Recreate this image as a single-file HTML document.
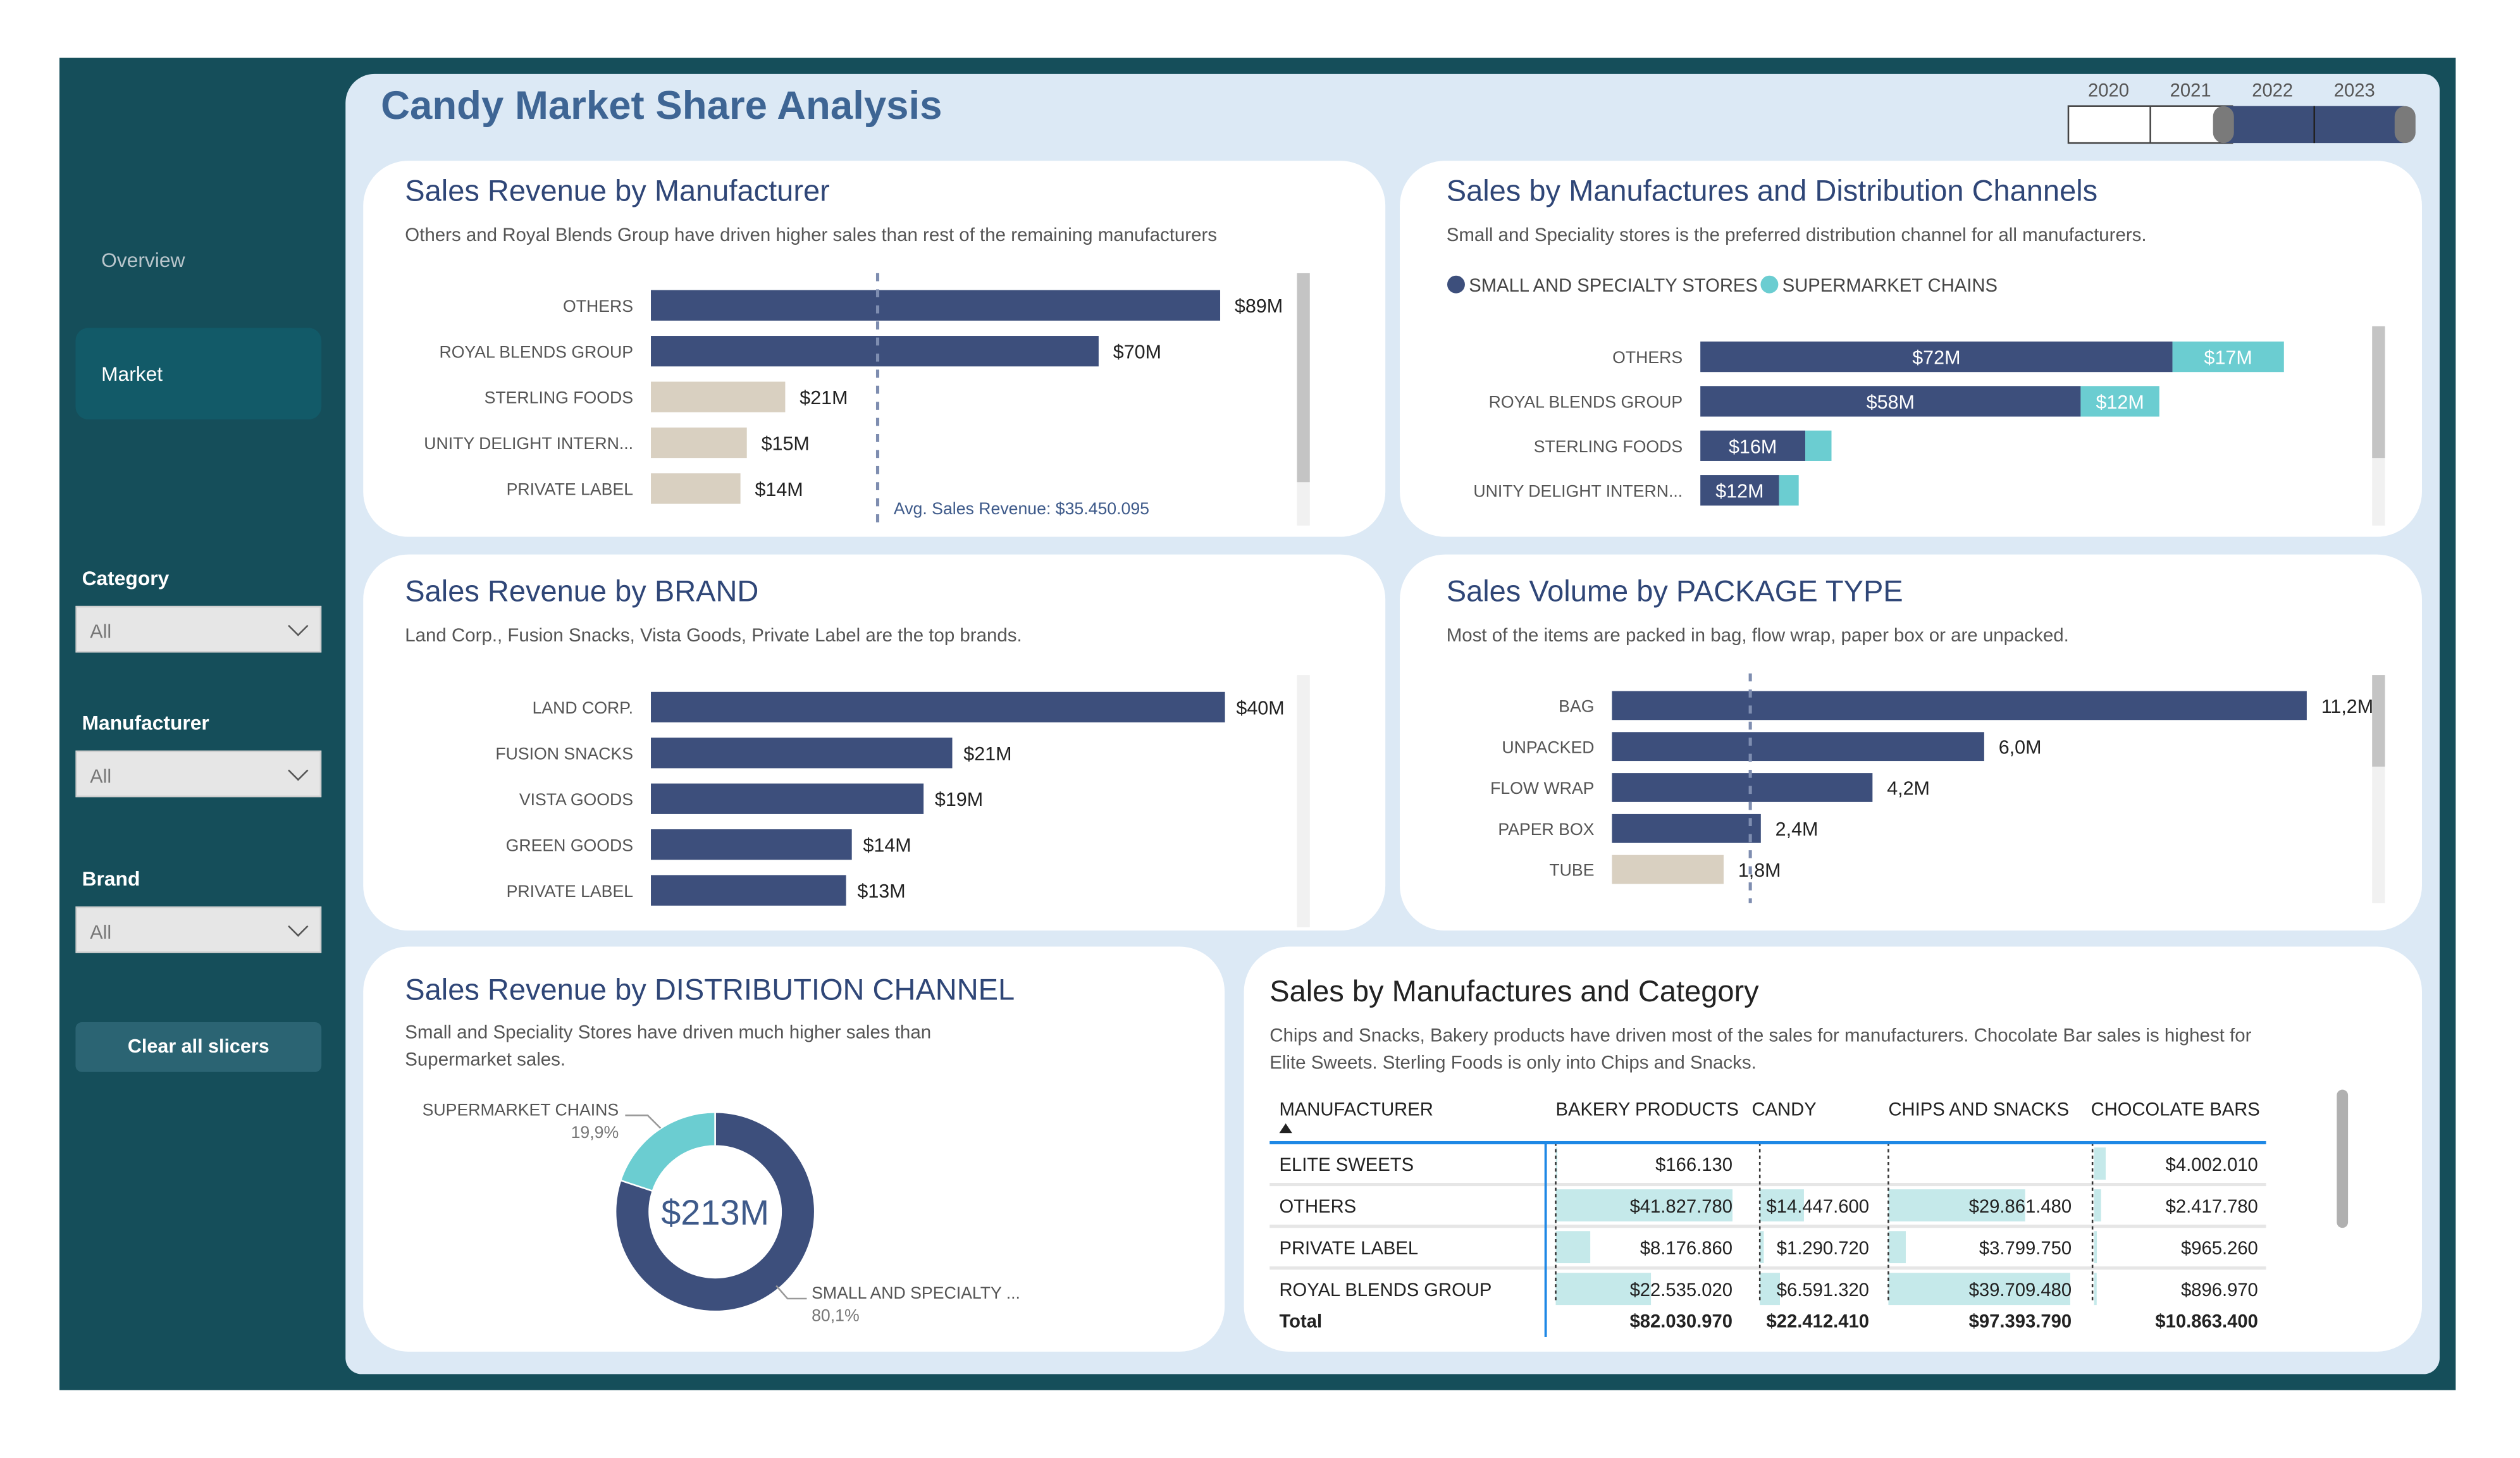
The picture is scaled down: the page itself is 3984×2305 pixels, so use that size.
<!DOCTYPE html>
<html><head><meta charset="utf-8">
<style>
html,body{margin:0;padding:0;background:#fff;width:3984px;height:2304px;overflow:hidden}
#wrap{position:absolute;left:0;top:0;width:1568px;height:907px;transform:scale(2.5408);transform-origin:0 0;font-family:"Liberation Sans",sans-serif}
.abs{position:absolute}
.card{position:absolute;background:#fff;border-radius:28px}
.ct{position:absolute;font-size:18.5px;color:#2f4677;white-space:nowrap}
.cs{position:absolute;font-size:11.6px;color:#555;white-space:nowrap;line-height:17px}
.lbl{color:#fff;font-size:12.5px;font-weight:bold}
.dd{position:absolute;left:47px;width:153px;height:29px;background:#e6e6e6;border:1px solid #cfcfcf;box-sizing:border-box}
.dd span{position:absolute;left:8px;top:8px;font-size:12px;color:#777}
.dd i{position:absolute;right:9px;top:7px;width:8px;height:8px;border-right:1.3px solid #555;border-bottom:1.3px solid #555;transform:rotate(45deg)}
svg text{font-family:"Liberation Sans",sans-serif}
</style></head><body>
<div id="wrap">
<div class="abs" style="left:37px;top:36px;width:1491px;height:829px;background:#154e5a"></div>
<div class="abs" style="left:63px;top:155px;font-size:12.5px;color:#b9c6cc">Overview</div>
<div class="abs" style="left:47px;top:204px;width:153px;height:57px;background:#125a68;border-radius:8px"><span style="position:absolute;left:16px;top:22px;font-size:12.5px;color:#fff">Market</span></div>
<div class="abs lbl" style="left:51px;top:353px">Category</div>
<div class="dd" style="top:377px"><span>All</span><i></i></div>
<div class="abs lbl" style="left:51px;top:443px">Manufacturer</div>
<div class="dd" style="top:467px"><span>All</span><i></i></div>
<div class="abs lbl" style="left:51px;top:540px">Brand</div>
<div class="dd" style="top:564px"><span>All</span><i></i></div>
<div class="abs" style="left:47px;top:636px;width:153px;height:31px;background:#2b6473;border-radius:4px;color:#fff;font-size:12px;font-weight:bold;text-align:center;line-height:31px">Clear all slicers</div>

<div class="abs" style="left:215px;top:46px;width:1303px;height:809px;background:#dce9f5;border-radius:18px 10px 10px 10px"></div>
<div class="abs" style="left:237px;top:52px;font-size:25px;font-weight:bold;color:#3e6594">Candy Market Share Analysis</div>

<div class="card" style="left:226px;top:100px;width:636px;height:234px"></div>
<div class="card" style="left:871px;top:100px;width:636px;height:234px"></div>
<div class="card" style="left:226px;top:345px;width:636px;height:234px"></div>
<div class="card" style="left:871px;top:345px;width:636px;height:234px"></div>
<div class="card" style="left:226px;top:589px;width:536px;height:252px"></div>
<div class="card" style="left:774px;top:589px;width:733px;height:252px"></div>

<div class="ct" style="left:252px;top:108px">Sales Revenue by Manufacturer</div>
<div class="cs" style="left:252px;top:138px">Others and Royal Blends Group have driven higher sales than rest of the remaining manufacturers</div>
<div class="ct" style="left:900px;top:108px">Sales by Manufactures and Distribution Channels</div>
<div class="cs" style="left:900px;top:138px">Small and Speciality stores is the preferred distribution channel for all manufacturers.</div>
<div class="ct" style="left:252px;top:357px">Sales Revenue by BRAND</div>
<div class="cs" style="left:252px;top:387px">Land Corp., Fusion Snacks, Vista Goods, Private Label are the top brands.</div>
<div class="ct" style="left:900px;top:357px">Sales Volume by PACKAGE TYPE</div>
<div class="cs" style="left:900px;top:387px">Most of the items are packed in bag, flow wrap, paper box or are unpacked.</div>
<div class="ct" style="left:252px;top:605px">Sales Revenue by DISTRIBUTION CHANNEL</div>
<div class="cs" style="left:252px;top:634px">Small and Speciality Stores have driven much higher sales than<br>Supermarket sales.</div>
<div class="ct" style="left:790px;top:606px;color:#222">Sales by Manufactures and Category</div>
<div class="cs" style="left:790px;top:636px">Chips and Snacks, Bakery products have driven most of the sales for manufacturers. Chocolate Bar sales is highest for<br>Elite Sweets. Sterling Foods is only into Chips and Snacks.</div>

<svg id="chart" class="abs" style="left:0;top:0" width="1568" height="907"></svg>
</div>
<script>
// Chart 1 data
const mfrCats=["OTHERS","ROYAL BLENDS GROUP","STERLING FOODS","UNITY DELIGHT INTERN...","PRIVATE LABEL"];
const mfrVals=[89,70,21,15,14];
const mfrLabels=["$89M","$70M","$21M","$15M","$14M"];
const mfrAvg=35.45;
// Chart 2
const chCats=["OTHERS","ROYAL BLENDS GROUP","STERLING FOODS","UNITY DELIGHT INTERN..."];
const chSmall=[72,58,16,12];
const chSuper=[17,12,4,3];
const chSmallLabels=["$72M","$58M","$16M","$12M"];
const chSuperLabels=["$17M","$12M","",""];
// Chart 3
const brCats=["LAND CORP.","FUSION SNACKS","VISTA GOODS","GREEN GOODS","PRIVATE LABEL"];
const brVals=[40,21,19,14,13.6];
const brLabels=["$40M","$21M","$19M","$14M","$13M"];
// Chart 4
const pkCats=["BAG","UNPACKED","FLOW WRAP","PAPER BOX","TUBE"];
const pkVals=[11.2,6.0,4.2,2.4,1.8];
const pkLabels=["11,2M","6,0M","4,2M","2,4M","1,8M"];
const pkAvg=2.23;
// Chart 5
const dcCats=["SUPERMARKET CHAINS","SMALL AND SPECIALTY ..."];
const dcVals=[19.9,80.1];
const dcPct=["19,9%","80,1%"];
// Table
const tbRows=["ELITE SWEETS","OTHERS","PRIVATE LABEL","ROYAL BLENDS GROUP"];
const tbCols=["BAKERY PRODUCTS","CANDY","CHIPS AND SNACKS","CHOCOLATE BARS"];
const tbBakery=[0.16613,41.82778,8.17686,22.53502];
const tbCandy=[null,14.4476,1.29072,6.59132];
const tbChips=[null,29.86148,3.79975,39.70948];
const tbChoc=[4.00201,2.41778,0.96526,0.89697];
const tbTotals=["$82.030.970","$22.412.410","$97.393.790","$10.863.400"];
const years=["2020","2021","2022","2023"];

const NS="http://www.w3.org/2000/svg";
const svg=document.getElementById('chart');
function el(tag,attrs,txt){const e=document.createElementNS(NS,tag);for(const k in attrs)e.setAttribute(k,attrs[k]);if(txt!==undefined)e.textContent=txt;svg.appendChild(e);return e;}
const NAVY="#3d4f7c",BEIGE="#d9d0c1",TEAL="#6bcdd1";
function fmtNum(v){const n=Math.round(v*1e6);return "$"+n.toString().replace(/\B(?=(\d{3})+(?!\d))/g,".");}

// Chart1
{const x0=405,k=3.98,y0=190,dy=28.5,h=19;
const sx=v=>x0+v*k;
mfrCats.forEach((c,i)=>{const y=y0+i*dy;
 let t=el('text',{x:394,y:y+4,'text-anchor':'end','font-size':10.5,fill:'#555'},c);
 
 let r=el('rect',{x:x0,y:y-h/2,width:sx(mfrVals[i])-x0,height:h,fill:mfrVals[i]>mfrAvg?NAVY:BEIGE});
 
 let v=el('text',{x:sx(mfrVals[i])+9,y:y+4.5,'font-size':12,fill:'#222'},mfrLabels[i]);
 });
let l=el('line',{x1:sx(mfrAvg),x2:sx(mfrAvg),y1:170,y2:327,stroke:'#7e8db0','stroke-width':2,'stroke-dasharray':'5,5'});

let a=el('text',{x:sx(mfrAvg)+10,y:320,'font-size':10.5,fill:'#3e5a8a'},"Avg. Sales Revenue: $35.450.095");

let tr=el('rect',{x:807,y:170,width:8,height:157,fill:'#f1f1f1'});
let th=el('rect',{x:807,y:170,width:8,height:130,fill:'#c4c4c4'});}

// Chart2
{const x0=1058,k=4.08,y0=222,dy=27.7,h=19;
const sx=v=>x0+v*k;
let c1=el('circle',{cx:906,cy:177,r:5.5,fill:NAVY});
let t1=el('text',{x:914,y:181.5,'font-size':11.5,fill:'#444'},"SMALL AND SPECIALTY STORES");
let c2=el('circle',{cx:1101,cy:177,r:5.5,fill:TEAL});
let t2=el('text',{x:1109,y:181.5,'font-size':11.5,fill:'#444'},"SUPERMARKET CHAINS");
chCats.forEach((c,i)=>{const y=y0+i*dy;
 let t=el('text',{x:1047,y:y+4,'text-anchor':'end','font-size':10.5,fill:'#555'},c);
 let r=el('rect',{x:x0,y:y-h/2,width:chSmall[i]*k,height:h,fill:NAVY});
 let r2=el('rect',{x:sx(chSmall[i]),y:y-h/2,width:chSuper[i]*k,height:h,fill:TEAL});
 let v=el('text',{x:(x0+sx(chSmall[i]))/2,y:y+4.5,'text-anchor':'middle','font-size':12,fill:'#fff'},chSmallLabels[i]);
 if(chSuperLabels[i]){let v2=el('text',{x:sx(chSmall[i])+chSuper[i]*k/2,y:y+4.5,'text-anchor':'middle','font-size':12,fill:'#fff'},chSuperLabels[i]);}});
let tr=el('rect',{x:1476,y:203,width:8,height:124,fill:'#f1f1f1'});
let th=el('rect',{x:1476,y:203,width:8,height:82,fill:'#c4c4c4'});}

// Chart3
{const x0=405,k=8.93,y0=440,dy=28.5,h=19;
brCats.forEach((c,i)=>{const y=y0+i*dy;
 let t=el('text',{x:394,y:y+4,'text-anchor':'end','font-size':10.5,fill:'#555'},c);
 let r=el('rect',{x:x0,y:y-h/2,width:brVals[i]*k,height:h,fill:NAVY});
 let v=el('text',{x:x0+brVals[i]*k+7,y:y+4.5,'font-size':12,fill:'#222'},brLabels[i]);});
let tr=el('rect',{x:807,y:420,width:8,height:157,fill:'#f1f1f1'});}

// Chart4
{const x0=1003,k=38.6,y0=439,dy=25.5,h=18;
const sx=v=>x0+v*k;
pkCats.forEach((c,i)=>{const y=y0+i*dy;
 let t=el('text',{x:992,y:y+4,'text-anchor':'end','font-size':10.5,fill:'#555'},c);
 let r=el('rect',{x:x0,y:y-h/2,width:pkVals[i]*k,height:h,fill:pkVals[i]<2?BEIGE:NAVY});});
let l=el('line',{x1:sx(pkAvg),x2:sx(pkAvg),y1:419,y2:562,stroke:'#7e8db0','stroke-width':2,'stroke-dasharray':'5,5'});
pkCats.forEach((c,i)=>{const y=y0+i*dy;
 let v=el('text',{x:sx(pkVals[i])+9,y:y+4.5,'font-size':12,fill:'#222'},pkLabels[i]);});
let tr=el('rect',{x:1476,y:420,width:8,height:142,fill:'#f1f1f1'});
let th=el('rect',{x:1476,y:420,width:8,height:57,fill:'#c4c4c4'});}

// Chart5 donut
{const cx=445,cy=754,R=62,r=41;const tot=dcVals.reduce((a,b)=>a+b,0);
let ang=0;const cols=[TEAL,NAVY];
function pt(a,rad){return [cx+rad*Math.sin(a),cy-rad*Math.cos(a)];}
dcVals.forEach((v,i)=>{const sweep=v/tot*2*Math.PI;
 const a1=-ang, a2=-(ang+sweep);
 const [x1,y1]=pt(a1,R),[x2,y2]=pt(a2,R),[x3,y3]=pt(a2,r),[x4,y4]=pt(a1,r);
 const lg=sweep>Math.PI?1:0;
 let p=el('path',{d:`M${x1},${y1} A${R},${R} 0 ${lg} 0 ${x2},${y2} L${x3},${y3} A${r},${r} 0 ${lg} 1 ${x4},${y4} Z`,fill:cols[i],stroke:'#fff','stroke-width':1});
 
 ang+=sweep;});
let c=el('text',{x:cx,y:cy+8,'text-anchor':'middle','font-size':22,fill:'#3e5a8a'},"$213M");
let l1=el('polyline',{points:'389,694 403,694 411,702',fill:'none',stroke:'#999','stroke-width':1});
let a=el('text',{x:385,y:694,'text-anchor':'end','font-size':10.5,fill:'#555'},dcCats[0]);
let a2=el('text',{x:385,y:708,'text-anchor':'end','font-size':10.5,fill:'#777'},dcPct[0]);
let l2=el('polyline',{points:'483,800 490,808 502,808',fill:'none',stroke:'#999','stroke-width':1});
let b=el('text',{x:505,y:808,'font-size':10.5,fill:'#555'},dcCats[1]);
let b2=el('text',{x:505,y:822,'font-size':10.5,fill:'#777'},dcPct[1]);}

// Table
{const hdrX=[968,1090,1175,1301];const colL=[968,1095,1175,1303];const colR=[1078,1163,1289,1405];const k=[2.63,1.9,2.85,1.8];
const cols=[tbBakery,tbCandy,tbChips,tbChoc];const y0=724,dy=26;
let h=el('text',{x:796,y:694,'font-size':11.5,fill:'#222'},"MANUFACTURER");
let s=el('path',{d:'M796,705 L800,699 L804,705 Z',fill:'#222'});
tbCols.forEach((c,j)=>{let t=el('text',{x:hdrX[j],y:694,'font-size':11.5,fill:'#222'},c);});
tbRows.forEach((r,i)=>{const y=y0+i*dy;
 if(i<3){let sep=el('rect',{x:790,y:y+12,width:620,height:2,fill:'#e6e6e6'});}
 cols.forEach((col,j)=>{const v=col[i];if(v==null)return;
  let db=el('rect',{x:colL[j],y:y-10,width:Math.max(v*k[j],1),height:20,fill:'#c5e9ea'});});});
[968,1095,1175,1302].forEach(x=>{let d=el('line',{x1:x,x2:x,y1:711,y2:810,stroke:'#333','stroke-width':1,'stroke-dasharray':'2,2'});});
tbRows.forEach((r,i)=>{const y=y0+i*dy;
 let t=el('text',{x:796,y:y+4.5,'font-size':11.5,fill:'#222'},r);
 cols.forEach((col,j)=>{const v=col[i];if(v==null)return;
  let c=el('text',{x:colR[j],y:y+4.5,'text-anchor':'end','font-size':11.5,fill:'#222'},fmtNum(v));});});
let tl=el('text',{x:796,y:826,'font-size':11.5,'font-weight':'bold',fill:'#222'},"Total");
tbTotals.forEach((v,j)=>{let t=el('text',{x:colR[j],y:826,'text-anchor':'end','font-size':11.5,'font-weight':'bold',fill:'#222'},v);});
let bl=el('rect',{x:790,y:710,width:620,height:2,fill:'#1e88e5'});
let vl=el('rect',{x:961,y:711,width:1.5,height:121,fill:'#1e88e5'});
let sb=el('rect',{x:1454,y:678,width:7,height:86,rx:3.5,fill:'#b0b0b0'});}

// Year slicer
{const xs=[1312,1363,1414,1465];
years.forEach((y,i)=>{let t=el('text',{x:xs[i],y:60,'text-anchor':'middle','font-size':11.5,fill:'#555'},y);});
let b=el('rect',{x:1287,y:66,width:102,height:23,fill:'#fff',stroke:'#444','stroke-width':1});
let d=el('line',{x1:1338,x2:1338,y1:66,y2:89,stroke:'#444'});
let sel=el('rect',{x:1384,y:66,width:112,height:23,fill:'#3c4e79'});
let d2=el('line',{x1:1440,x2:1440,y1:66,y2:89,stroke:'#222'});
let h1=el('rect',{x:1377,y:66,width:13,height:23,rx:6.5,fill:'#7a7a7a'});
let h2=el('rect',{x:1490,y:66,width:13,height:23,rx:6.5,fill:'#7a7a7a'});}
</script>
</body></html>
